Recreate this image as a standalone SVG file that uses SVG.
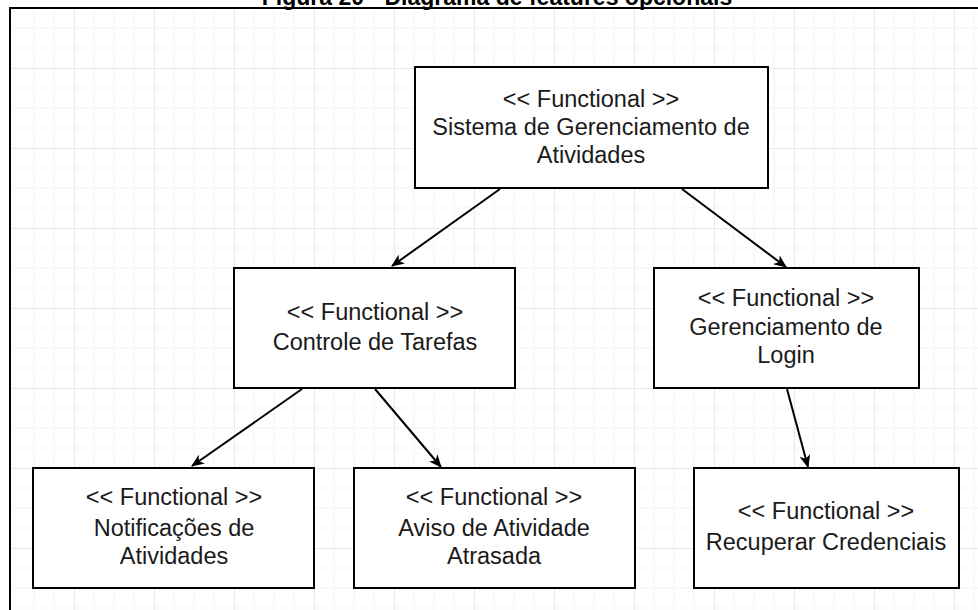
<svg xmlns="http://www.w3.org/2000/svg" width="978" height="610" viewBox="0 0 978 610">
  <defs>
    <style>
      .box { fill: #ffffff; stroke: #000000; stroke-width: 2; }
      .lbl { font-family: "Liberation Sans", Arial, sans-serif; font-size: 23.5px; fill: #1a1a1a; text-anchor: middle; }
      .title { font-family: "Liberation Sans", Arial, sans-serif; font-size: 23px; font-weight: bold; fill: #000000; text-anchor: middle; }
      .edge { stroke: #000000; stroke-width: 2; fill: none; marker-end: url(#arrow); }
      .minor { stroke: #f3f3f3; stroke-width: 1; }
      .major { stroke: #e2e2e2; stroke-width: 1.5; }
    </style>
    <pattern id="grid" patternUnits="userSpaceOnUse" x="74" y="68" width="80" height="80">
      <path class="minor" d="M20,0 V80 M40,0 V80 M60,0 V80 M0,20 H80 M0,40 H80 M0,60 H80"/>
      <path class="major" d="M0,0 V80 M0,0 H80"/>
    </pattern>
    <marker id="arrow" viewBox="0 0 13 11" refX="12" refY="5.5" markerWidth="13" markerHeight="11" markerUnits="userSpaceOnUse" orient="auto">
      <path d="M0,0 L13,5.5 L0,11 L3.5,5.5 Z" fill="#000000"/>
    </marker>
  </defs>

  <rect x="0" y="0" width="978" height="610" fill="#ffffff"/>
  <rect x="10" y="8" width="968" height="602" fill="url(#grid)"/>
  <path d="M10,610 V8 H978" fill="none" stroke="#000000" stroke-width="2"/>

  <text class="title" x="497" y="5">Figura 20 - Diagrama de features opcionais</text>

  <g id="connectors">
    <line class="edge" x1="500" y1="189" x2="392" y2="266"/>
    <line class="edge" x1="682" y1="189" x2="786" y2="267"/>
    <line class="edge" x1="302" y1="389" x2="192" y2="466"/>
    <line class="edge" x1="375" y1="389" x2="441" y2="467"/>
    <line class="edge" x1="787" y1="389" x2="808" y2="467"/>
  </g>

  <g id="node-sistema">
    <rect class="box" x="415" y="67" width="353" height="121"/>
    <text class="lbl" x="591" y="107">&lt;&lt; Functional &gt;&gt;</text>
    <text class="lbl" x="591" y="135">Sistema de Gerenciamento de</text>
    <text class="lbl" x="591" y="163">Atividades</text>
  </g>

  <g id="node-controle">
    <rect class="box" x="234" y="268" width="281" height="120"/>
    <text class="lbl" x="375" y="320">&lt;&lt; Functional &gt;&gt;</text>
    <text class="lbl" x="375" y="350">Controle de Tarefas</text>
  </g>

  <g id="node-login">
    <rect class="box" x="654" y="268" width="265" height="120"/>
    <text class="lbl" x="786" y="306">&lt;&lt; Functional &gt;&gt;</text>
    <text class="lbl" x="786" y="335">Gerenciamento de</text>
    <text class="lbl" x="786" y="363">Login</text>
  </g>

  <g id="node-notificacoes">
    <rect class="box" x="33" y="468" width="281" height="120"/>
    <text class="lbl" x="174" y="505">&lt;&lt; Functional &gt;&gt;</text>
    <text class="lbl" x="174" y="536">Notificações de</text>
    <text class="lbl" x="174" y="564">Atividades</text>
  </g>

  <g id="node-aviso">
    <rect class="box" x="354" y="468" width="281" height="120"/>
    <text class="lbl" x="494" y="505">&lt;&lt; Functional &gt;&gt;</text>
    <text class="lbl" x="494" y="536">Aviso de Atividade</text>
    <text class="lbl" x="494" y="564">Atrasada</text>
  </g>

  <g id="node-recuperar">
    <rect class="box" x="694" y="468" width="265" height="120"/>
    <text class="lbl" x="826" y="519">&lt;&lt; Functional &gt;&gt;</text>
    <text class="lbl" x="826" y="550">Recuperar Credenciais</text>
  </g>
</svg>
